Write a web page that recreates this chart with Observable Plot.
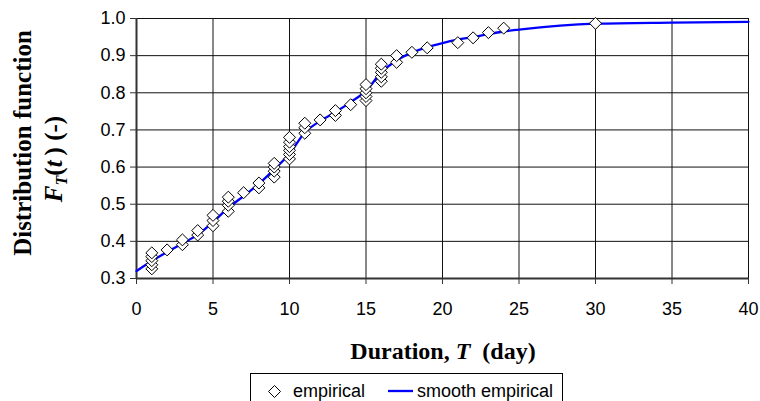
<!DOCTYPE html>
<html><head><meta charset="utf-8">
<script src="https://cdn.jsdelivr.net/npm/d3@7"></script>
<script src="https://cdn.jsdelivr.net/npm/@observablehq/plot@0.6"></script>
<style>
body{margin:0;background:#fff;}
#chart{position:relative;width:760px;height:401px;overflow:hidden;background:#fff;}
#legend{position:absolute;left:250px;top:373px;width:313px;height:40px;box-sizing:border-box;border:1px solid #000;background:#fff;}
</style></head><body><div id="chart"></div>
<script>
// Empirical distribution points (duration in days, F_T(t))
const empT = [1,1,1,1,1, 2, 3,3, 4,4, 5,5,5, 6,6,6,6, 7, 8,8, 9,9,9,9, 10,10,10,10,10,10, 11,11,11, 12, 13,13, 14, 15,15,15,15,15, 16,16,16,16,16, 17,17, 18, 19, 21, 22, 23, 24, 30];
const empF = [0.326,0.337,0.348,0.359,0.369, 0.377, 0.391,0.404, 0.417,0.429, 0.442,0.456,0.470, 0.481,0.497,0.508,0.519, 0.531, 0.544,0.557, 0.573,0.589,0.600,0.610, 0.622,0.634,0.645,0.655,0.667,0.680, 0.691,0.706,0.718, 0.727, 0.739,0.752, 0.768, 0.779,0.790,0.800,0.811,0.822, 0.831,0.843,0.855,0.866,0.877, 0.882,0.900, 0.909, 0.921, 0.935, 0.948, 0.962, 0.974, 0.987];
// Smooth empirical curve
const smoothT = [0,1,2,3,4,5,6,7,8,9,10,11,12,13,14,15,16,17,18,19,20,21,22,23,24,25,30,35,40];
const smoothF = [0.320,0.347,0.371,0.394,0.418,0.452,0.490,0.522,0.555,0.594,0.636,0.693,0.724,0.748,0.775,0.805,0.855,0.887,0.908,0.923,0.934,0.943,0.950,0.958,0.965,0.970,0.986,0.989,0.991];
// Axis ticks
const xTicks = [0,5,10,15,20,25,30,35,40];
const yTicks = [0.3,0.4,0.5,0.6,0.7,0.8,0.9,1.0];

const emp = empT.map((t,i)=>({t, f: empF[i]}));
const smooth = smoothT.map((t,i)=>({t, f: smoothF[i]}));

const plot = Plot.plot({
  width: 760, height: 372,
  marginLeft: 136, marginRight: 12, marginTop: 18, marginBottom: 94,
  style: {fontFamily: "'Liberation Sans', Arial, sans-serif", fontSize: "18px", color: "#000", background: "#fff", overflow: "visible"},
  x: {domain: [0,40], label: null},
  y: {domain: [0.3,1.0], label: null},
  marks: [
    Plot.gridX(xTicks, {stroke: "#111", strokeOpacity: 1, strokeWidth: 1}),
    Plot.gridY(yTicks, {stroke: "#111", strokeOpacity: 1, strokeWidth: 1}),
    Plot.axisX(xTicks, {tickSize: 6, tickPadding: 18, fontSize: 18, label: null, stroke: "#333"}),
    Plot.axisY(yTicks, {tickSize: 6, tickPadding: 5, fontSize: 18, label: null, tickFormat: d => d.toFixed(1), stroke: "#333"}),
    Plot.ruleX([0], {stroke: "#333", strokeWidth: 2}),
    Plot.ruleY([0.3], {stroke: "#333", strokeWidth: 2}),
    Plot.line(smooth, {x: "t", y: "f", stroke: "#0000ff", strokeWidth: 2.3, curve: "monotone-x"}),
    Plot.dot(emp, {x: "t", y: "f", symbol: "diamond2", r: 5.4, fill: "white", stroke: "black", strokeWidth: 1})
  ]
});

const svg = d3.select(plot);
const serif = "'Liberation Serif', 'Times New Roman', serif";
// Y title line 1
svg.append("text")
  .attr("transform", "translate(31,143) rotate(-90)")
  .attr("text-anchor", "middle")
  .style("font-family", serif).style("font-weight", "bold").style("font-size", "25px").attr("fill", "#000")
  .text("Distribution function");
// Y title line 2: F_T(t) (-)
const l2 = svg.append("text")
  .attr("transform", "translate(62,159) rotate(-90)")
  .attr("text-anchor", "middle")
  .style("font-family", serif).style("font-weight", "bold").style("font-size", "25px").attr("fill", "#000");
l2.append("tspan").style("font-style", "italic").text("F");
l2.append("tspan").style("font-style", "italic").style("font-size", "16px").attr("dy", 5).text("T");
l2.append("tspan").attr("dy", -5).text("(");
l2.append("tspan").style("font-style", "italic").text("t");
l2.append("tspan").text("\u2009) (-)");
// X title
const xt = svg.append("text")
  .attr("x", 443).attr("y", 359)
  .attr("text-anchor", "middle")
  .style("font-family", serif).style("font-weight", "bold").style("font-size", "24px").attr("fill", "#000");
xt.append("tspan").text("Duration, ");
xt.append("tspan").style("font-style", "italic").text("T");
xt.append("tspan").text("\u00a0 (day)");

const chart = document.getElementById("chart");
chart.appendChild(plot);

// Legend below the plot
const leg = d3.select(chart).append("div").attr("id", "legend");
const ls = leg.append("svg").attr("width", 311).attr("height", 38);
ls.append("path").attr("d", "M23.5,11.5 L29.5,17.5 L23.5,23.5 L17.5,17.5Z").attr("fill", "white").attr("stroke", "black").attr("stroke-width", 1);
ls.append("text").attr("x", 42).attr("y", 23).style("font-family", "'Liberation Sans', Arial, sans-serif").style("font-size", "18px").text("empirical");
ls.append("line").attr("x1", 137).attr("x2", 162).attr("y1", 17).attr("y2", 17).attr("stroke", "#0000ff").attr("stroke-width", 2.3);
ls.append("text").attr("x", 166).attr("y", 23).style("font-family", "'Liberation Sans', Arial, sans-serif").style("font-size", "18px").text("smooth empirical");
</script>
</body></html>
